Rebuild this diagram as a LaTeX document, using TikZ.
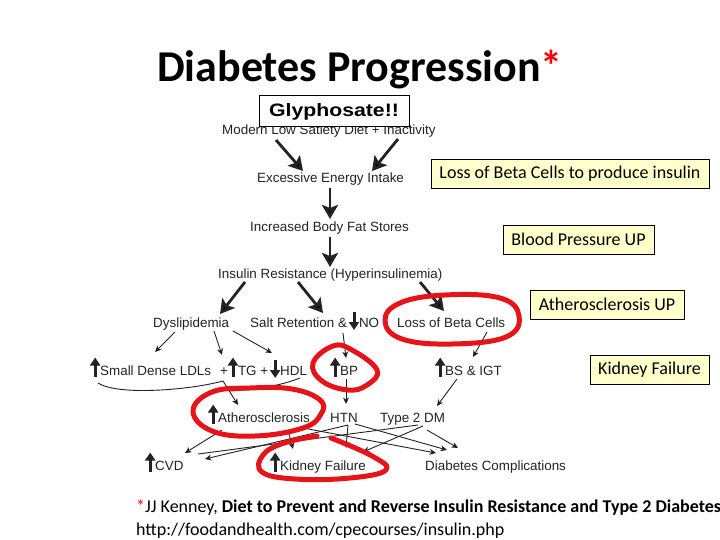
\documentclass[tikz,border=0pt]{standalone}
\usepackage{fontspec}
\setmainfont{Liberation Sans}
\newfontfamily\calfont{Carlito}
\usetikzlibrary{arrows.meta,calc}
\definecolor{cream}{RGB}{255,255,204}
\definecolor{marker}{RGB}{230,20,25}
\definecolor{ink}{RGB}{35,35,35}
\newcommand\uparr{\tikz[baseline=0pt,x=1pt,y=1pt]{\path (-4.5,0) (5,0);\draw[ink,line width=3pt,-{Triangle[length=8pt,width=10pt]}] (0,-1.5) -- (0,17.5);}}
\newcommand\downarr{\tikz[baseline=0pt,x=1pt,y=1pt]{\path (-4.5,0) (5,0);\draw[ink,line width=3pt,-{Triangle[length=8pt,width=10pt]}] (0,15) -- (0,-3);}}
\begin{document}
\begin{tikzpicture}[x=1pt,y=-1pt,
 lbl/.style={anchor=base west,inner sep=0pt,text height=10pt,text depth=3pt,font=\fontsize{13.4}{15}\selectfont,text=ink},
 bigarr/.style={draw=ink,line width=2.8pt,-{Stealth[length=14pt,width=16pt,inset=3pt]}},
 thinarr/.style={draw=ink,line width=0.9pt,-{Stealth[length=6.5pt,width=6pt]}},
 thinline/.style={draw=ink,line width=0.9pt},
 callout/.style={draw=black,line width=0.8pt,fill=cream,inner sep=0pt,minimum height=29pt,font=\calfont\fontsize{18}{20}\selectfont},
 redpen/.style={draw=marker,line width=5pt,line cap=round,line join=round}]
\useasboundingbox (0,0) rectangle (720,540);
\fill[white] (0,0) rectangle (720,540);

% title
\node[anchor=base west,inner sep=0pt,font=\calfont\bfseries\fontsize{44}{50}\selectfont] (title) at (157,82) {Diabetes Progression\textcolor{red}{*}};

% diagram labels
\node[lbl] (modern) at (222,135) {Modern Low Satiety Diet + Inactivity};
\node[lbl] (excess) at (257,183) {Excessive Energy Intake};
\node[lbl] (bodyfat) at (250,231) {Increased Body Fat Stores};
\node[lbl] (insulin) at (218,278) {Insulin Resistance (Hyperinsulinemia)};
\node[lbl] (dys) at (153,327) {Dyslipidemia};
\node[lbl] (salt) at (250,327) {Salt Retention \&\kern2pt\downarr NO};
\node[lbl] (lossbeta) at (397,327) {Loss of Beta Cells};
\node[lbl] (ldl) at (90,375) {\uparr Small Dense LDLs};
\node[lbl] (tg) at (220,375) {+\uparr TG +};
\node[lbl] (hdl) at (270,375) {\downarr HDL};
\node[lbl] (bp) at (330,375) {\uparr BP};
\node[lbl] (bs) at (435,375) {\uparr BS \& IGT};
\node[lbl] (athero) at (208,422) {\uparr Atherosclerosis};
\node[lbl] (htn) at (330,422) {HTN};
\node[lbl] (t2dm) at (380,422) {Type 2 DM};
\node[lbl] (cvd) at (145,470) {\uparr CVD};
\node[lbl] (kidney) at (270,470) {\uparr Kidney Failure};
\node[lbl] (dcomp) at (425,470) {Diabetes Complications};

% thick arrows
\draw[bigarr] ([shift={(54,5)}]modern.base west) -- ([shift={(46,-12)}]excess.base west);
\draw[bigarr] ([shift={(176,4)}]modern.base west) -- ([shift={(115,-12)}]excess.base west);
\draw[bigarr] ([shift={(73,5)}]excess.base west) -- ([shift={(80,-12)}]bodyfat.base west);
\draw[bigarr] ([shift={(80,6)}]bodyfat.base west) -- ([shift={(112,-11)}]insulin.base west);
\draw[bigarr] ([shift={(27,4)}]insulin.base west) -- ([shift={(67,-13)}]dys.base west);
\draw[bigarr] ([shift={(80,4)}]insulin.base west) -- ([shift={(73,-14)}]salt.base west);
\draw[bigarr] ([shift={(202,4)}]insulin.base west) -- ([shift={(47,-16)}]lossbeta.base west);

% thin arrows
\draw[thinarr] ([shift={(22,5)}]dys.base west) -- ([shift={(65,-23)}]ldl.base west);
\draw[thinarr] ([shift={(61,4)}]dys.base west) -- ([shift={(2,-20)}]tg.base west);
\draw[thinarr] ([shift={(80,4)}]dys.base west) -- ([shift={(2,-22)}]hdl.base west);
\draw[thinarr] ([shift={(93,6)}]salt.base west) -- ([shift={(16,-17)}]bp.base west);
\draw[thinarr] ([shift={(90,5)}]lossbeta.base west) -- ([shift={(38,-18)}]bs.base west);
\draw[thinarr] ([shift={(16,4)}]bp.base west) -- ([shift={(16,-18)}]htn.base west);
\draw[thinarr] ([shift={(22,4)}]bs.base west) -- ([shift={(57,-16)}]t2dm.base west);

% lipids to atherosclerosis
\coordinate (peak) at ([shift={(3,6)}]tg.base west);
\coordinate (athtip) at ([shift={(30,-17)}]athero.base west);
\coordinate (merge) at ($(peak)!0.42!(athtip)$);
\draw[thinline] ([shift={(8,8)}]ldl.base west) .. controls (118,396) and (190,390) .. (peak);
\draw[thinarr] (peak) -- (athtip);
\draw[thinline] ([shift={(30,3)}]hdl.base west) .. controls (275,388) and (245,390) .. (merge);

% lower crossings
\draw[thinarr] ([shift={(14,8)}]athero.base west) -- ([shift={(40,-17)}]cvd.base west);
\draw[thinarr] ([shift={(80,8)}]athero.base west) -- ([shift={(23,-21)}]kidney.base west);
\draw[thinarr] ([shift={(95,6)}]athero.base west) -- ([shift={(11,-17)}]dcomp.base west);
\draw[thinarr] ([shift={(18,3)}]htn.base west) -- ([shift={(60,-11)}]cvd.base west);
\draw[thinarr] ([shift={(18,3)}]htn.base west) -- ([shift={(76,-22)}]kidney.base west);
\draw[thinarr] ([shift={(25,2)}]htn.base west) -- ([shift={(22,-20)}]dcomp.base west);
\draw[thinline] ([shift={(38,3)}]t2dm.base west) -- ([shift={(53,-16)}]cvd.base west);
\draw[thinarr] ([shift={(43,4)}]t2dm.base west) -- ([shift={(93,-18)}]kidney.base west);
\draw[thinarr] ([shift={(47,8)}]t2dm.base west) -- ([shift={(33,-22)}]dcomp.base west);

% glyphosate box
\node[draw=black,line width=1pt,fill=white,inner sep=0pt,minimum width=150pt,minimum height=31pt,font=\bfseries\fontsize{18}{20}\selectfont] (gly) at (334,111.5) {\scalebox{1.18}[1]{Glyphosate!!}};

% callouts
\node[callout,minimum width=278pt] (c1) at (570,173.5) {Loss of Beta Cells to produce insulin};
\node[callout,minimum width=151pt] (c2) at (578.5,239.5) {Blood Pressure UP};
\node[callout,minimum width=154pt] (c3) at (607,304.5) {Atherosclerosis UP};
\node[callout,minimum width=119pt] (c4) at (649.5,369.5) {Kidney Failure};

% red marker strokes
\draw[redpen] plot[smooth cycle,tension=0.7] coordinates {(445,295) (500,298) (519,316) (506,337) (452,344) (402,339) (385,321) (400,303)};
\draw[redpen] plot[smooth cycle,tension=0.7] coordinates {(313,363) (333,346) (352,350) (377,370) (367,385) (348,390) (322,381)};
\draw[redpen] plot[smooth cycle,tension=0.7] coordinates {(193,411) (212,392) (250,388) (292,389) (320,400) (321,414) (303,428) (255,436) (212,431)};
\draw[redpen] plot[smooth,tension=0.7] coordinates {(317,436) (284,443) (263,455) (262,472) (295,479) (350,478) (386,470) (372,456) (331,438)};

% footnote
\node[anchor=base west,inner sep=0pt,font=\calfont\fontsize{18}{22}\selectfont] (ref1) at (136,512) {\textcolor{red}{*}JJ Kenney, \textbf{Diet to Prevent and Reverse Insulin Resistance and Type 2 Diabetes}};
\node[anchor=base west,inner sep=0pt,font=\calfont\fontsize{18}{22}\selectfont] (ref2) at (136,535) {http://foodandhealth.com/cpecourses/insulin.php};
\end{tikzpicture}
\end{document}
